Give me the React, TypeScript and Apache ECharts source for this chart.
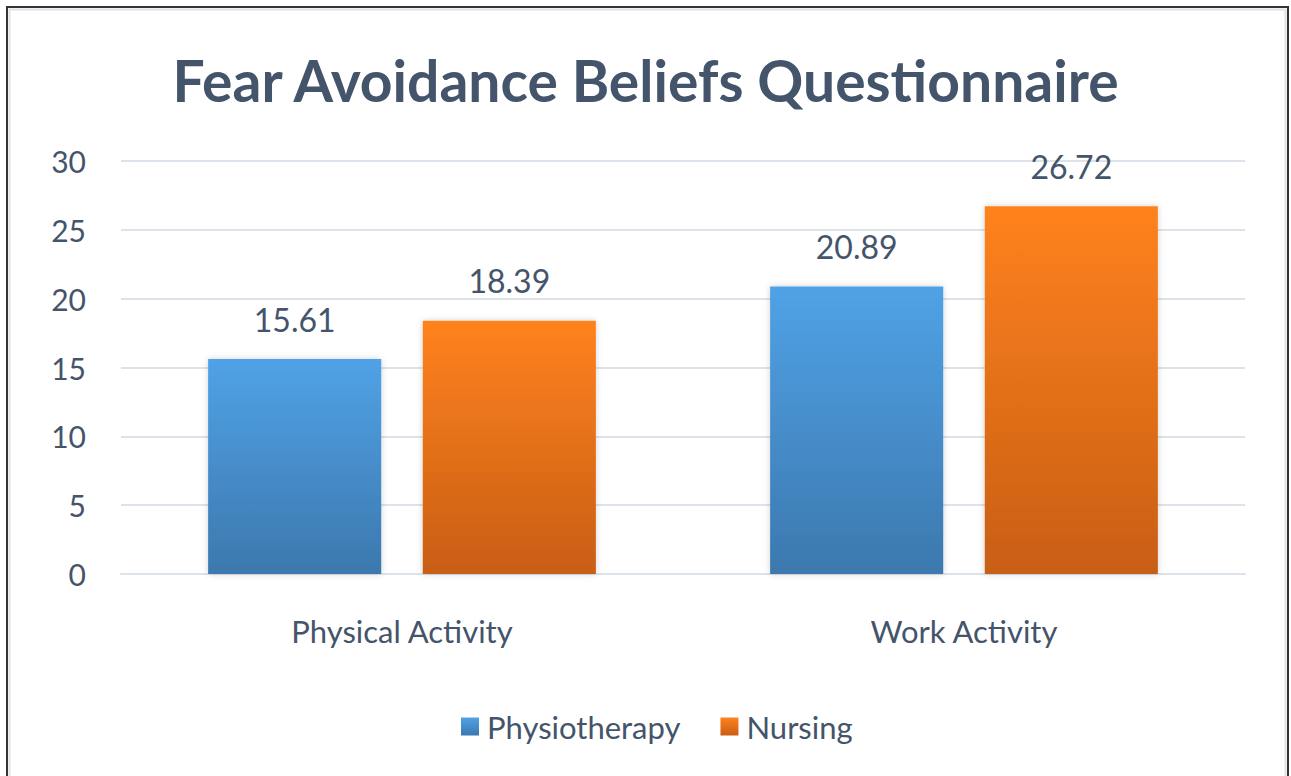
import React, { useEffect, useRef } from "react";
import * as echarts from "echarts";

const categories = ["Physical Activity", "Work Activity"];
const seriesNames = ["Physiotherapy", "Nursing"];
const physiotherapy = [15.61, 20.89];
const nursing = [18.39, 26.72];
const yTicks = { min: 0, max: 30, interval: 5 };

const FONT = "Lato, 'Open Sans', sans-serif";
const TEXT = "#44546A";

export default function App() {
  const ref = useRef<HTMLDivElement>(null);
  useEffect(() => {
    const chart = echarts.init(ref.current!, null, { renderer: "svg" });
    const grad = (a: string, b: string) =>
      new echarts.graphic.LinearGradient(0, 0, 0, 1, [
        { offset: 0, color: a },
        { offset: 1, color: b },
      ]);
    const label = {
      show: true,
      position: "top",
      distance: 24,
      color: TEXT,
      fontFamily: FONT,
      fontSize: 32,
    };
    chart.setOption({
      animation: false,
      backgroundColor: "#ffffff",
      title: {
        text: "Fear Avoidance Beliefs Questionnaire",
        left: "center",
        top: 46,
        textStyle: { color: TEXT, fontFamily: FONT, fontWeight: "bold", fontSize: 57 },
      },
      graphic: [
        {
          type: "rect",
          shape: { x: 7, y: 7, width: 1281, height: 800 },
          style: { fill: "none", stroke: "#333333", lineWidth: 2 },
          silent: true,
        },
        {
          type: "rect",
          shape: { x: 9.5, y: 9.5, width: 1276, height: 800 },
          style: { fill: "none", stroke: "#dde3ea", lineWidth: 2 },
          silent: true,
        },
      ],
      legend: {
        data: seriesNames,
        left: 456,
        top: 706,
        itemWidth: 18,
        itemHeight: 18,
        itemGap: 40,
        icon: "rect",
        textStyle: { color: TEXT, fontFamily: FONT, fontSize: 31, padding: [0, 0, 0, 3] },
      },
      grid: { left: 121, right: 46, top: 161, bottom: 202, containLabel: false },
      xAxis: {
        type: "category",
        data: categories,
        axisLine: { show: true, lineStyle: { color: "#dde3ea", width: 2 } },
        axisTick: { show: false },
        axisLabel: { color: TEXT, fontFamily: FONT, fontSize: 31, margin: 41 },
      },
      yAxis: {
        type: "value",
        min: yTicks.min,
        max: yTicks.max,
        interval: yTicks.interval,
        axisLine: { show: false },
        axisTick: { show: false },
        splitLine: { lineStyle: { color: "#dde3ea", width: 2 } },
        axisLabel: { color: TEXT, fontFamily: FONT, fontSize: 30, margin: 35 },
      },
      series: [
        {
          name: seriesNames[0],
          type: "bar",
          data: physiotherapy,
          barWidth: "30.8%",
          barGap: "24%",
          itemStyle: {
            color: grad("#50A2E6", "#3C78AE"),
            shadowColor: "rgba(0,0,0,0.18)",
            shadowBlur: 6,
          },
          label,
        },
        {
          name: seriesNames[1],
          type: "bar",
          data: nursing,
          barWidth: "30.8%",
          barGap: "24%",
          itemStyle: {
            color: grad("#FF821E", "#C85E14"),
            shadowColor: "rgba(0,0,0,0.18)",
            shadowBlur: 6,
          },
          label,
        },
      ],
    });
    return () => chart.dispose();
  }, []);
  return (
    <div
      ref={ref}
      style={{ position: "fixed", left: 0, top: 0, width: 1291, height: 776 }}
    />
  );
}
